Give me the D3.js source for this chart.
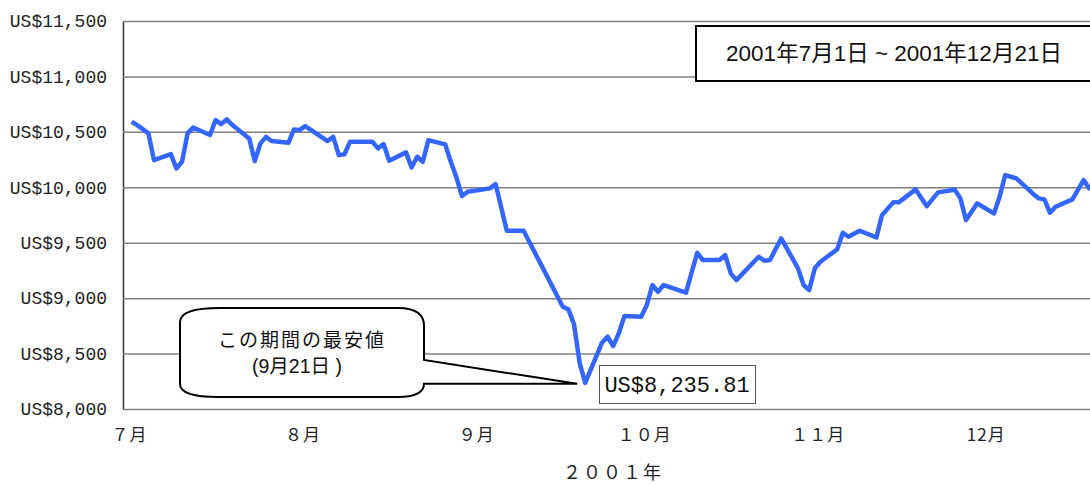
<!DOCTYPE html>
<html>
<head>
<meta charset="utf-8">
<script src="https://cdn.jsdelivr.net/npm/d3@7"></script>
<style>
    body { margin: 0; background: #fff; }
    svg { display: block; }
</style>
</head>
<body>
<script>
const WIDTH = 1090;
const HEIGHT = 485;
const LEFT = 123;
const TOP = 21;
const BOTTOM = 409;

// daily close (2001)
const dates = [
    "2001-07-02", "2001-07-03", "2001-07-05", "2001-07-06", "2001-07-09", "2001-07-10", "2001-07-11",
    "2001-07-12", "2001-07-13", "2001-07-16", "2001-07-17", "2001-07-18", "2001-07-19", "2001-07-20",
    "2001-07-23", "2001-07-24", "2001-07-25", "2001-07-26", "2001-07-27", "2001-07-30", "2001-07-31",
    "2001-08-01", "2001-08-02", "2001-08-06", "2001-08-07", "2001-08-08", "2001-08-09", "2001-08-10",
    "2001-08-13", "2001-08-14", "2001-08-15", "2001-08-16", "2001-08-17", "2001-08-20", "2001-08-21",
    "2001-08-22", "2001-08-23", "2001-08-24", "2001-08-27", "2001-08-28", "2001-08-29", "2001-08-30",
    "2001-08-31", "2001-09-04", "2001-09-05", "2001-09-07", "2001-09-10", "2001-09-17", "2001-09-18",
    "2001-09-19", "2001-09-20", "2001-09-21", "2001-09-24", "2001-09-25", "2001-09-26", "2001-09-27",
    "2001-09-28", "2001-10-01", "2001-10-02", "2001-10-03", "2001-10-04", "2001-10-05", "2001-10-09",
    "2001-10-11", "2001-10-12", "2001-10-15", "2001-10-16", "2001-10-17", "2001-10-18", "2001-10-22",
    "2001-10-23", "2001-10-24", "2001-10-26", "2001-10-29", "2001-10-30", "2001-10-31", "2001-11-01",
    "2001-11-02", "2001-11-05", "2001-11-06", "2001-11-07", "2001-11-09", "2001-11-12", "2001-11-13",
    "2001-11-15", "2001-11-16", "2001-11-19", "2001-11-21", "2001-11-23", "2001-11-26", "2001-11-27",
    "2001-11-28", "2001-11-29", "2001-11-30", "2001-12-03", "2001-12-04", "2001-12-05", "2001-12-06",
    "2001-12-07", "2001-12-10", "2001-12-11", "2001-12-12", "2001-12-13", "2001-12-14", "2001-12-17",
    "2001-12-19", "2001-12-20", "2001-12-21"
];
const values = [
    10591, 10561, 10486, 10245, 10299, 10170, 10230,
    10486, 10540, 10471, 10606, 10570, 10612, 10561,
    10441, 10236, 10396, 10455, 10417, 10401, 10522,
    10516, 10552, 10417, 10455, 10290, 10297, 10410,
    10410, 10410, 10351, 10390, 10239, 10315, 10179,
    10275, 10230, 10425, 10387, 10230, 10090, 9921,
    9959, 9990, 10029, 9608, 9608, 8922, 8899,
    8766, 8417, 8235.81, 8598, 8652, 8568, 8683,
    8839, 8832, 8938, 9118, 9058, 9118, 9049,
    9409, 9344, 9344, 9389, 9224, 9163, 9373,
    9337, 9344, 9539, 9269, 9118, 9073, 9269,
    9328, 9440, 9590, 9554, 9608, 9548, 9749,
    9864, 9864, 9981, 9830, 9954, 9978, 9900,
    9704, 9779, 9855, 9764, 9914, 10110, 10095,
    10080, 9940, 9900, 9891, 9770, 9824, 9891,
    10065, 9990, 10035
];

const yTicks = [8000, 8500, 9000, 9500, 10000, 10500, 11000, 11500];
const monthTicks = ["2001-07-01", "2001-08-01", "2001-09-01", "2001-10-01", "2001-11-01", "2001-12-01"];
const monthLabels = ["７月", "８月", "９月", "１０月", "１１月", "12月"];
const periodLabel = "2001年7月1日 ~ 2001年12月21日";
const lowDate = "2001-09-21";
const lowValue = 8235.81;

var parse = d3.timeParse("%Y-%m-%d");

var canvas = d3.select('body')
    .append('svg')
    .attr("width", WIDTH)
    .attr("height", HEIGHT);

canvas.append("rect")
    .attr("width", WIDTH)
    .attr("height", HEIGHT)
    .attr("fill", "#fff");

var x = d3.scaleTime()
    .domain([parse("2001-07-01"), parse("2001-12-21")])
    .range([126, 1094.8]);

var y = d3.scaleLinear()
    .domain([8000, 11500])
    .range([BOTTOM, TOP]);

// gridlines + y labels
var yAxis = canvas.append("g")
    .attr("transform", "translate(" + LEFT + ",0)")
    .call(d3.axisLeft(y)
        .tickValues(yTicks)
        .tickSize(-(WIDTH - LEFT))
        .tickSizeOuter(0)
        .tickPadding(16)
        .tickFormat(d => "US$" + d3.format(",")(d)));

yAxis.select(".domain")
    .attr("stroke", "#333")
    .attr("stroke-width", 1.5);
yAxis.selectAll(".tick line")
    .attr("stroke", "#808080")
    .attr("stroke-width", 1.5);
yAxis.selectAll(".tick text")
    .attr("fill", "#222")
    .style("font-family", "'Liberation Mono', monospace")
    .style("font-size", "18px");

// month labels
var xAxis = canvas.append("g")
    .attr("transform", "translate(0," + BOTTOM + ")")
    .call(d3.axisBottom(x)
        .tickValues(monthTicks.map(parse))
        .tickSize(0)
        .tickPadding(20)
        .tickFormat((d, i) => monthLabels[i]));

xAxis.select(".domain").remove();
xAxis.selectAll(".tick text")
    .attr("dx", 3)
    .attr("fill", "#222")
    .style("font-family", "'Noto Sans CJK JP'")
    .style("font-size", "17px")
    .style("letter-spacing", "1px");

canvas.append("text")
    .attr("x", 613)
    .attr("y", 479)
    .attr("text-anchor", "middle")
    .attr("fill", "#222")
    .style("font-family", "'Noto Sans CJK JP'")
    .style("font-size", "18px")
    .style("letter-spacing", "2px")
    .text("２００１年");

// the index line
var line = d3.line()
    .x((d, i) => x(parse(dates[i])))
    .y(d => y(d));

canvas.append("path")
    .datum(values)
    .attr("d", line)
    .attr("fill", "none")
    .attr("stroke", "#3366ff")
    .attr("stroke-width", 4.5)
    .attr("stroke-linejoin", "round");

// period box, top right
canvas.append("rect")
    .attr("x", 696)
    .attr("y", 26)
    .attr("width", 400)
    .attr("height", 55)
    .attr("fill", "#fff")
    .attr("stroke", "#000")
    .attr("stroke-width", 2);

canvas.append("text")
    .attr("x", 894)
    .attr("y", 61)
    .attr("text-anchor", "middle")
    .attr("fill", "#111")
    .style("font-family", "'Liberation Sans', 'Noto Sans CJK JP'")
    .style("font-size", "22.5px")
    .text(periodLabel);

// callout pointing at the low
var tipX = x(parse(lowDate)) - 8;
var tipY = y(lowValue) + 1;
var callout = "M220,308 L398,308 Q424,308 424,326 L424,360 L" + tipX + "," + tipY +
    " L424," + tipY + " Q424,397 398,397 L218,397 Q180,397 180,384 L180,322 Q180,308 220,308 Z";

canvas.append("path")
    .attr("d", callout)
    .attr("fill", "#fff")
    .attr("stroke", "#000")
    .attr("stroke-width", 2);

canvas.append("text")
    .attr("x", 302)
    .attr("y", 347)
    .attr("text-anchor", "middle")
    .attr("fill", "#111")
    .style("font-family", "'Noto Sans CJK JP'")
    .style("font-size", "19px")
    .style("letter-spacing", "2px")
    .text("この期間の最安値");

canvas.append("text")
    .attr("x", 297)
    .attr("y", 373)
    .attr("text-anchor", "middle")
    .attr("fill", "#111")
    .style("font-family", "'Liberation Sans', 'Noto Sans CJK JP'")
    .style("font-size", "19.5px")
    .text("(9月21日 )");

// value label for the low
canvas.append("rect")
    .attr("x", 599.5)
    .attr("y", 365.5)
    .attr("width", 156)
    .attr("height", 38)
    .attr("fill", "#fff")
    .attr("stroke", "#555")
    .attr("stroke-width", 1);

canvas.append("text")
    .attr("x", 677)
    .attr("y", 392)
    .attr("text-anchor", "middle")
    .attr("fill", "#111")
    .style("font-family", "'Liberation Mono', monospace")
    .style("font-size", "22px")
    .text("US$" + d3.format(",.2f")(lowValue));
</script>
</body>
</html>
